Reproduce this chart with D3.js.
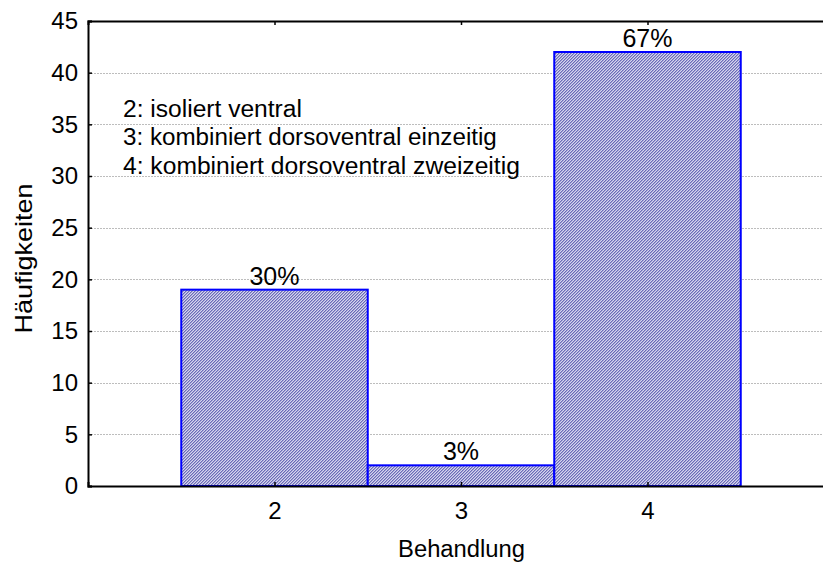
<!DOCTYPE html>
<html><head><meta charset="utf-8">
<script src="https://cdn.jsdelivr.net/npm/d3@7"></script>
<style>
body{margin:0;background:#fff;}
text{font-family:"Liberation Sans",Arial,sans-serif;fill:#000;}
</style></head>
<body><svg id="c" width="823" height="563"></svg>
<script>
const categories = [2, 3, 4];
const counts = [19, 2, 42];
const percentLabels = ["30%", "3%", "67%"];
const yTicks = [0, 5, 10, 15, 20, 25, 30, 35, 40, 45];
const legendLines = ["2: isoliert ventral", "3: kombiniert dorsoventral einzeitig", "4: kombiniert dorsoventral zweizeitig"];
const xTitle = "Behandlung";
const yTitle = "Häufigkeiten";

const svg = d3.select("#c");
const x = d3.scaleLinear().domain([1, 5]).range([88, 834]);
const y = d3.scaleLinear().domain([0, 45]).range([486, 21]);

const defs = svg.append("defs");
const pat = defs.append("pattern").attr("id", "hatch").attr("patternUnits", "userSpaceOnUse")
  .attr("width", 3).attr("height", 3).attr("shape-rendering", "crispEdges");
pat.append("rect").attr("width", 3).attr("height", 3).attr("fill", "#d6d6ee");
[[2, 0], [1, 1], [0, 2]].forEach(([px, py]) =>
  pat.append("rect").attr("x", px).attr("y", py).attr("width", 1).attr("height", 1).attr("fill", "#6a6ab8"));
[[0, 0], [2, 1], [1, 2]].forEach(([px, py]) =>
  pat.append("rect").attr("x", px).attr("y", py).attr("width", 1).attr("height", 1).attr("fill", "#a4a4d4"));

// grid
svg.append("g").selectAll("line").data(yTicks.filter(t => t > 0 && t < 45)).join("line")
  .attr("x1", x(1)).attr("x2", x(5)).attr("y1", d => Math.round(y(d)) + 0.5).attr("y2", d => Math.round(y(d)) + 0.5)
  .attr("stroke", "#bdbdbd").attr("stroke-width", 1).attr("stroke-dasharray", "2,1");

// legend text (horizontally stretched like the original)
const legendWidths = [179, 374, 397];
const lg = svg.append("g").selectAll("g").data(legendLines).join("g")
  .attr("transform", (d, i) => `translate(123,${117 + i * 28.3})`);
lg.append("text").style("font-size", "23.5px").text(d => d)
  .each(function(d, i) {
    const w = this.getComputedTextLength();
    d3.select(this).attr("transform", `scale(${legendWidths[i] / w},1)`);
  });

// bars
svg.append("g").selectAll("rect").data(categories).join("rect")
  .attr("x", d => x(d - 0.5)).attr("width", d => x(d + 0.5) - x(d - 0.5))
  .attr("y", (d, i) => y(counts[i])).attr("height", (d, i) => y(0) - y(counts[i]))
  .attr("fill", "url(#hatch)").attr("stroke", "#0000ff").attr("stroke-width", 2);

// percent labels
svg.append("g").selectAll("text").data(categories).join("text")
  .attr("x", d => x(d)).attr("y", (d, i) => y(counts[i]) - 5)
  .attr("text-anchor", "middle").style("font-size", "25px").text((d, i) => percentLabels[i]);

// axes
const axL = svg.append("g").attr("transform", `translate(${x(1)},0)`)
  .call(d3.axisLeft(y).tickValues(yTicks).tickSize(-4).tickPadding(10));
const axB = svg.append("g").attr("transform", `translate(0,${y(0)})`)
  .call(d3.axisBottom(x).tickValues(categories).tickSize(-4).tickPadding(16).tickFormat(d3.format("d")));
const axT = svg.append("g").attr("transform", `translate(0,${y(45)})`)
  .call(d3.axisTop(x).tickValues(categories).tickSize(-4).tickFormat(""));
[axL, axB, axT].forEach(g => {
  g.select(".domain").attr("stroke", "#000").attr("stroke-width", 2);
  g.selectAll(".tick line").attr("stroke", "#000").attr("stroke-width", 1.5);
  g.selectAll("text").style("font-size", "24px").attr("fill", "#000").style("font-family", "'Liberation Sans',Arial,sans-serif");
});

// titles
const xt = svg.append("g").attr("transform", "translate(461.5,557)").append("text")
  .attr("text-anchor", "middle").style("font-size", "23px").text(xTitle);
xt.attr("transform", `scale(${127 / xt.node().getComputedTextLength()},1)`);
const yt = svg.append("g").attr("transform", "translate(32,258.5) rotate(-90)").append("text")
  .attr("text-anchor", "middle").style("font-size", "23px").text(yTitle);
yt.attr("transform", `scale(${150 / yt.node().getComputedTextLength()},1)`);
</script></body></html>
